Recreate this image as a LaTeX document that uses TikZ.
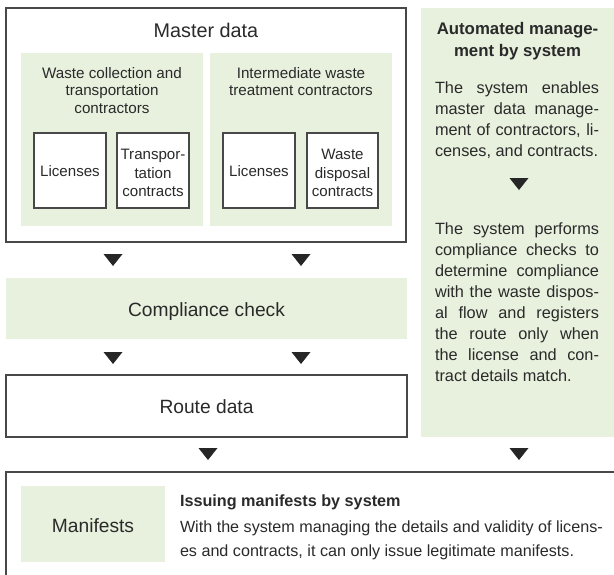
\documentclass[tikz,border=0pt]{standalone}
\usepackage{fontspec}
\setmainfont{Liberation Sans}
\definecolor{txtc}{HTML}{2A2A2A}
\definecolor{linec}{HTML}{484848}
\definecolor{greenc}{HTML}{E8F1DE}
\newcommand\fsz[2]{\fontsize{#1}{#2}\selectfont}
\tikzset{
  lbl/.style={inner sep=0pt, outer sep=0pt, text=txtc, anchor=base},
  lblw/.style={lbl, anchor=base west},
  frame/.style={draw=linec, line width=1.1pt, fill=white},
  greenfill/.style={fill=greenc},
  tri/.style={fill=black!85},
}
\newcommand\downtri[2]{\fill[tri] (#1-9.5,#2) -- (#1+9.5,#2) -- (#1,#2+12) -- cycle;}
\begin{document}
\begin{tikzpicture}[x=1pt,y=-1pt]
\useasboundingbox (0,0) rectangle (614,574);
\clip (0,0) rectangle (614,574);
\fill[white] (0,0) rectangle (614,574);

% right panel
\fill[greenfill] (421,8) rectangle (620,437);

% master data
\draw[frame] (6,8) rectangle (406,242);
\fill[greenfill] (21,53) rectangle (203,226);
\fill[greenfill] (210,53) rectangle (392,226);
\draw[frame] (34,133) rectangle (106,208);
\draw[frame] (117,133) rectangle (189,208);
\draw[frame] (223,133) rectangle (295,208);
\draw[frame] (307,133) rectangle (378,208);

\node[lbl, font=\fsz{19.8}{23}] (master) at (206,37) {Master data};
\node[lbl] (grpA) at (112,78.5) {\parbox[t]{180pt}{\centering\fsz{15.2}{17.3}Waste collection and\\transportation\\contractors}};
\node[lbl] (grpB) at (301,78.5) {\parbox[t]{180pt}{\centering\fsz{15.2}{17.3}Intermediate waste\\treatment contractors}};
\node[lbl, font=\fsz{15.1}{18.3}] (licA) at (70,176) {Licenses};
\node[lbl] (trans) at (153,159.8) {\parbox[t]{72pt}{\centering\fsz{15.1}{18.3}Transpor-\\tation\\contracts}};
\node[lbl, font=\fsz{15.1}{18.3}] (licB) at (259,176) {Licenses};
\node[lbl] (disp) at (342.5,159.8) {\parbox[t]{72pt}{\centering\fsz{15.1}{18.3}Waste\\disposal\\contracts}};

% arrows
\downtri{113}{254}
\downtri{301}{254}

% compliance
\fill[greenfill] (6,278) rectangle (407,339);
\node[lbl, font=\fsz{19.2}{22}] (comp) at (206.5,316.8) {Compliance check};

\downtri{113}{352}
\downtri{301}{352}

% route
\draw[frame] (6,375) rectangle (407,437);
\node[lbl, font=\fsz{19.2}{22}] (route) at (206.5,413.8) {Route data};

\downtri{208}{448}

% right panel text
\node[lbl] (auto) at (517.5,34.5) {\parbox[t]{180pt}{\centering\fsz{16.8}{22}\bfseries Automated manage-\\ment by system}};
\node[lblw] (para1) at (435,93) {\parbox[t]{164pt}{\fsz{16.3}{21}%
\makebox[164pt][s]{The system enables}\\
\makebox[164pt][s]{master data manage-}\\
\makebox[164pt][s]{ment of contractors, li-}\\
censes, and contracts.}};
\downtri{519}{178}
\node[lblw] (para2) at (435,234) {\parbox[t]{164pt}{\fsz{16.3}{21}%
\makebox[164pt][s]{The system performs}\\
\makebox[164pt][s]{compliance checks to}\\
\makebox[164pt][s]{determine compliance}\\
\makebox[164pt][s]{with the waste dispos-}\\
\makebox[164pt][s]{al flow and registers}\\
\makebox[164pt][s]{the route only when}\\
\makebox[164pt][s]{the license and con-}\\
tract details match.}};
\downtri{519}{448}

% bottom
\draw[draw=linec, line width=1.1pt] (620,472) -- (6,472) -- (6,580);
\fill[greenfill] (21,486) rectangle (165,562);
\node[lbl, font=\fsz{19.2}{22}] (manif) at (93,532.5) {Manifests};
\node[lblw, font=\fsz{16.2}{20}\bfseries] (issue) at (180,506) {Issuing manifests by system};
\node[lblw] (issbody) at (180,532) {\parbox[t]{440pt}{\raggedright\fsz{16.15}{24.5}%
With the system managing the details and validity of licens-\\
es and contracts, it can only issue legitimate manifests.}};
\end{tikzpicture}
\end{document}
